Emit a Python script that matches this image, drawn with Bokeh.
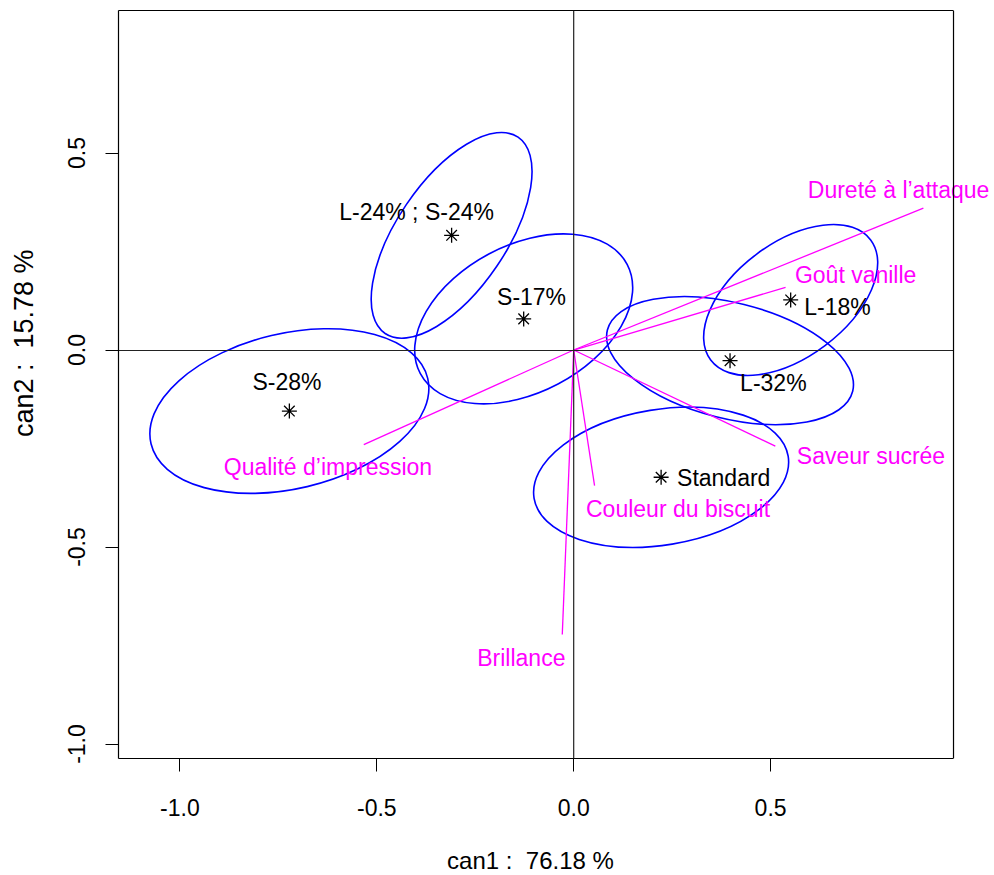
import numpy as np
from bokeh.plotting import figure
from bokeh.models import Range1d, FixedTicker, NumeralTickFormatter, Span, LinearAxis, Label
from bokeh.core.properties import value
from bokeh.embed import file_html
from bokeh.resources import INLINE

# ---- group means on canonical axes ----
groups = ["L-24% ; S-24%", "S-17%", "S-28%", "L-18%", "L-32%", "Standard"]
can1 = [-0.310, -0.127, -0.722, 0.551, 0.397, 0.222]
can2 = [0.291, 0.079, -0.155, 0.127, -0.027, -0.323]
# confidence ellipses: semi-axes and orientation (degrees)
ell_a = [0.301, 0.297, 0.361, 0.254, 0.321, 0.327]
ell_b = [0.139, 0.187, 0.197, 0.145, 0.147, 0.172]
ell_angle = [55.9, 27.8, 13.3, 36.9, -14.0, 9.4]
# group label anchors (centre, baseline)
grp_lab_x = [-0.399, -0.107, -0.728, 0.670, 0.507, 0.381]
grp_lab_y = [0.329, 0.115, -0.101, 0.088, -0.104, -0.345]

# ---- variable (structure) vectors ----
variables = ["Dureté à l’attaque", "Goût vanille", "Saveur sucrée",
             "Couleur du biscuit", "Brillance", "Qualité d’impression"]
var_x = [0.888, 0.538, 0.512, 0.053, -0.029, -0.533]
var_y = [0.360, 0.159, -0.244, -0.344, -0.722, -0.240]
var_lab_x = [0.825, 0.716, 0.755, 0.265, -0.133, -0.624]
var_lab_y = [0.387, 0.170, -0.289, -0.424, -0.801, -0.316]

ticks = [-1.0, -0.5, 0.0, 0.5]
xlab = "can1 :\u00a0 76.18 %"
ylab = "can2 :\u00a0 15.78 %"
xlab_anchor = (-0.1097, -1.2957)   # where the x-axis title sits (centre, baseline)

# plotting region (R "usr") and the drawing area (wider so long labels are not cut)
usr_x = (-1.1559, 0.9645)
usr_y = (-1.0368, 0.8617)
x_canvas_end = 1.0635

FONT = "Liberation Sans"
FS = "23px"
TXT_DY = -8  # baseline correction for text glyphs (px)

p = figure(width=992, height=874,
           x_range=Range1d(usr_x[0], x_canvas_end), y_range=Range1d(usr_y[0], usr_y[1]),
           output_backend="svg", toolbar_location=None,
           min_border_left=118, min_border_right=0, min_border_top=10, min_border_bottom=116)
p.grid.visible = False
p.background_fill_color = "white"
p.border_fill_color = "white"
p.outline_line_color = None

xa = p.xaxis[0]
ya = p.yaxis[0]
for ax in (xa, ya):
    ax.ticker = FixedTicker(ticks=ticks, minor_ticks=[])
    ax.formatter = NumeralTickFormatter(format="0.0")
    ax.major_tick_in = 0
    ax.major_tick_out = 13
    ax.minor_tick_in = 0
    ax.minor_tick_out = 0
    ax.axis_line_color = "black"
    ax.axis_line_width = 1.2
    ax.major_tick_line_color = "black"
    ax.major_label_text_font = FONT
    ax.major_label_text_font_size = FS
    ax.major_label_text_color = "black"
xa.bounds = usr_x

xa.major_label_standoff = 27
ya.major_label_standoff = 20
ya.major_label_orientation = "vertical"

# x axis title
p.add_layout(Label(x=xlab_anchor[0], y=xlab_anchor[1], text=xlab,
                   text_align="center", text_baseline="alphabetic", text_font=FONT,
                   text_font_size="24px", text_color="black"), "below")

# y axis title (R places it a little above the middle of the axis)
ya.axis_label = "\u00a0" * 11 + ylab
ya.axis_label_text_font = FONT
ya.axis_label_text_font_size = "27px"
ya.axis_label_text_font_style = "normal"
ya.axis_label_text_color = "black"
ya.axis_label_standoff = 27


def bare_axis(**kw):
    return LinearAxis(ticker=FixedTicker(ticks=[]), major_tick_out=0, major_tick_in=0,
                      minor_tick_out=0, minor_tick_in=0, major_label_standoff=0,
                      major_label_text_font_size="0px", **kw)


# box: top edge and right edge of the plotting region
p.add_layout(bare_axis(bounds=usr_x, axis_line_color="black", axis_line_width=1.2), "above")
p.add_layout(Span(location=usr_x[1], dimension="height", line_color="black", line_width=1.2))

# reference lines through the origin
p.add_layout(bare_axis(bounds=usr_x, fixed_location=0, axis_line_color="#222222",
                       axis_line_width=1.2), "below")
p.add_layout(Span(location=0, dimension="height", line_color="#222222", line_width=1.2))

# ellipses
p.ellipse(x=can1, y=can2, width=[2 * a for a in ell_a], height=[2 * b for b in ell_b],
          angle=list(np.radians(ell_angle)), fill_color=None, line_color="#0000FF", line_width=1.6)

# vectors
p.segment(x0=[0] * len(var_x), y0=[0] * len(var_y), x1=var_x, y1=var_y,
          line_color="#FF00FF", line_width=1.3)

# group means
p.scatter(x=can1, y=can2, marker="asterisk", size=15, line_color="black", line_width=1.3)
p.text(x=grp_lab_x, y=grp_lab_y, text=groups, text_align="center", text_baseline="alphabetic",
       y_offset=TXT_DY, text_font=value(FONT), text_font_size=value(FS), text_color="black")

# variable labels
p.text(x=var_lab_x, y=var_lab_y, text=variables, text_align="center",
       text_baseline="alphabetic", y_offset=TXT_DY, text_font=value(FONT),
       text_font_size=value(FS), text_color="#FF00FF")

open("out.html", "w").write(file_html(p, INLINE))
